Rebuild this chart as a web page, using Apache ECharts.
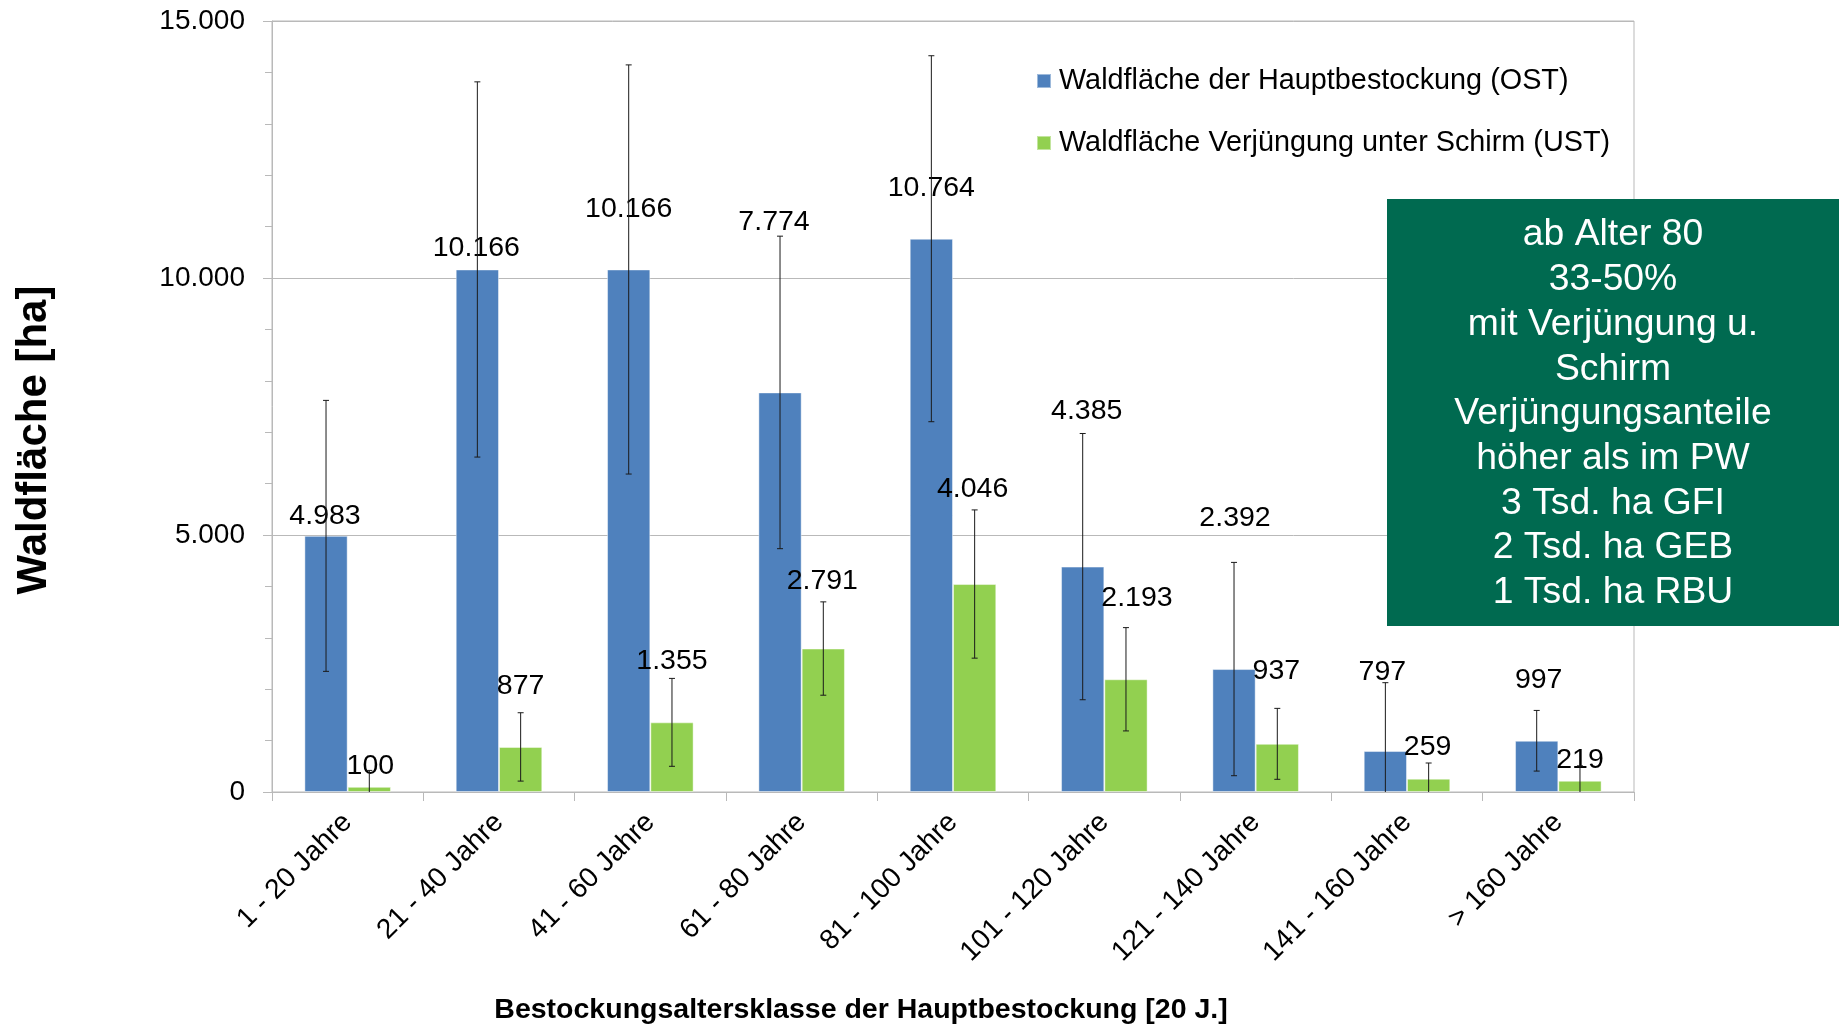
<!DOCTYPE html>
<html>
<head>
<meta charset="utf-8">
<title>Waldfläche nach Bestockungsaltersklasse</title>
<script src="https://cdn.jsdelivr.net/npm/echarts@6/dist/echarts.min.js"></script>
<style>
  html, body { margin: 0; padding: 0; background: #fff; }
  #chart { width: 1839px; height: 1026px; }
</style>
</head>
<body>
<div id="chart"></div>
<script>
// Age classes of the main stand
const categories = [
  '1 - 20 Jahre', '21 - 40 Jahre', '41 - 60 Jahre', '61 - 80 Jahre', '81 - 100 Jahre',
  '101 - 120 Jahre', '121 - 140 Jahre', '141 - 160 Jahre', '> 160 Jahre'
];
// Forest area [ha] of the main stand (OST) and of regeneration under canopy (UST)
const ostArea = [4983, 10166, 10166, 7774, 10764, 4385, 2392, 797, 997];
const ustArea = [100, 877, 1355, 2791, 4046, 2193, 937, 259, 219];
// Error margins (+/-) in ha
const ostError = [2636, 3650, 3980, 3040, 3560, 2590, 2075, 1330, 590];
const ustError = [320, 665, 855, 908, 1442, 1005, 690, 305, 290];

const seriesNames = ['Waldfläche der Hauptbestockung (OST)', 'Waldfläche Verjüngung unter Schirm (UST)'];
const noteLines = [
  'ab Alter 80', '33-50%', 'mit Verjüngung u.', 'Schirm', 'Verjüngungsanteile',
  'höher als im PW', '3 Tsd. ha GFI', '2 Tsd. ha GEB', '1 Tsd. ha RBU'
];

// Manual label nudges [dx, dy] in px, so labels clear the error bars
const ostLabelShift = [[-1, 0], [-1, -1], [0, -40], [-6, -150], [0, -31], [4, -135], [1, -131], [-3, -59], [2, -41]];
const ustLabelShift = [[1, -1], [0, -41], [0, -41], [-1, -47], [-2, -75], [11, -61], [-1, -53], [-1, -12], [0, -1]];

const FONT = "'Liberation Sans', Arial, Helvetica, sans-serif";
const BAR_FRAC = 0.286;           // bar width as a share of the category band
const GRID_COLOR = '#b9b9b9';

function fmt(v) {
  return String(Math.round(v)).replace(/\B(?=(\d{3})+(?!\d))/g, '.');
}

function barData(values, shifts) {
  return values.map((v, i) => ({ value: v, label: { offset: shifts[i] } }));
}

function errorSeries(values, errors, side) {
  return {
    type: 'custom',
    z: 5,
    silent: true,
    data: values.map((v, i) => [i, v, errors[i]]),
    encode: { x: 0, y: 1 },
    renderItem: function (params, api) {
      const i = api.value(0), v = api.value(1), e = api.value(2);
      const band = api.size([1, 0])[0];
      const x = api.coord([i, 0])[0] + side * band * BAR_FRAC / 2;
      const hi = api.coord([i, v + e])[1];
      const loVal = v - e;
      const lo = api.coord([i, Math.max(0, loVal)])[1];
      const style = { stroke: '#1a1a1a', lineWidth: 1 };
      const cap = 3;
      const children = [
        { type: 'line', shape: { x1: x, y1: hi, x2: x, y2: lo }, style: style },
        { type: 'line', shape: { x1: x - cap, y1: hi, x2: x + cap, y2: hi }, style: style }
      ];
      if (loVal > 0) {
        children.push({ type: 'line', shape: { x1: x - cap, y1: lo, x2: x + cap, y2: lo }, style: style });
      }
      return { type: 'group', children: children };
    }
  };
}

const labelStyle = {
  show: true,
  position: 'top',
  distance: 5,
  color: '#000',
  fontFamily: FONT,
  fontSize: 28.5,
  lineHeight: 30,
  formatter: p => fmt(p.value)
};

const chart = echarts.init(document.getElementById('chart'), null, { renderer: 'canvas' });

chart.setOption({
  backgroundColor: '#fff',
  animation: false,
  textStyle: { fontFamily: FONT },
  grid: {
    left: 272, right: 205, top: 21, bottom: 234,
    show: true, borderColor: GRID_COLOR, borderWidth: 1, backgroundColor: 'transparent'
  },
  legend: {
    data: seriesNames,
    orient: 'vertical',
    left: 1036,
    top: 66,
    padding: 0,
    icon: 'rect',
    itemWidth: 14,
    itemHeight: 14,
    itemGap: 32,
    textStyle: { fontFamily: FONT, fontSize: 28.8, lineHeight: 30, color: '#000', padding: [0, 0, 0, 3] }
  },
  xAxis: {
    type: 'category',
    data: categories,
    boundaryGap: true,
    axisLine: { lineStyle: { color: GRID_COLOR } },
    axisTick: { show: true, interval: 0, length: 9, lineStyle: { color: GRID_COLOR } },
    axisLabel: {
      interval: 0, rotate: 45, margin: 26,
      color: '#000', fontFamily: FONT, fontSize: 28
    },
    splitLine: { show: false }
  },
  yAxis: {
    type: 'value',
    min: 0, max: 15000, interval: 5000,
    axisLine: { show: true, lineStyle: { color: GRID_COLOR } },
    axisTick: { show: true, length: 9, lineStyle: { color: GRID_COLOR } },
    minorTick: { show: true, splitNumber: 5, length: 7, lineStyle: { color: GRID_COLOR } },
    axisLabel: {
      margin: 27, color: '#000', fontFamily: FONT, fontSize: 28,
      formatter: v => fmt(v)
    },
    splitLine: { show: true, lineStyle: { color: GRID_COLOR, width: 1 } }
  },
  series: [
    {
      name: seriesNames[0],
      type: 'bar',
      barWidth: (BAR_FRAC * 100) + '%',
      barGap: '0%',
      itemStyle: { color: '#4f81bd', borderColor: 'rgba(255,255,255,0.45)', borderWidth: 1 },
      label: labelStyle,
      data: barData(ostArea, ostLabelShift)
    },
    {
      name: seriesNames[1],
      type: 'bar',
      barWidth: (BAR_FRAC * 100) + '%',
      barGap: '0%',
      itemStyle: { color: '#92d050', borderColor: 'rgba(255,255,255,0.45)', borderWidth: 1 },
      label: labelStyle,
      data: barData(ustArea, ustLabelShift)
    },
    errorSeries(ostArea, ostError, -1),
    errorSeries(ustArea, ustError, 1)
  ],
  graphic: [
    {
      type: 'text',
      x: 34, y: 440,
      rotation: Math.PI / 2,
      style: {
        text: 'Waldfläche [ha]',
        fill: '#000',
        font: "bold 42px 'Liberation Sans', Arial, sans-serif",
        textAlign: 'center',
        textVerticalAlign: 'middle'
      }
    },
    {
      type: 'text',
      x: 861, y: 1010,
      style: {
        text: 'Bestockungsaltersklasse der Hauptbestockung [20 J.]',
        fill: '#000',
        font: "bold 28.5px 'Liberation Sans', Arial, sans-serif",
        textAlign: 'center',
        textVerticalAlign: 'middle'
      }
    },
    {
      type: 'rect',
      shape: { x: 1387, y: 199, width: 452, height: 427 },
      style: { fill: '#006a50' },
      z: 10
    },
    {
      type: 'text',
      x: 1613, y: 414,
      z: 11,
      style: {
        text: noteLines.join('\n'),
        fill: '#fff',
        font: "37.3px 'Liberation Sans', Arial, sans-serif",
        lineHeight: 44.7,
        textAlign: 'center',
        textVerticalAlign: 'middle'
      }
    }
  ]
});
</script>
</body>
</html>
